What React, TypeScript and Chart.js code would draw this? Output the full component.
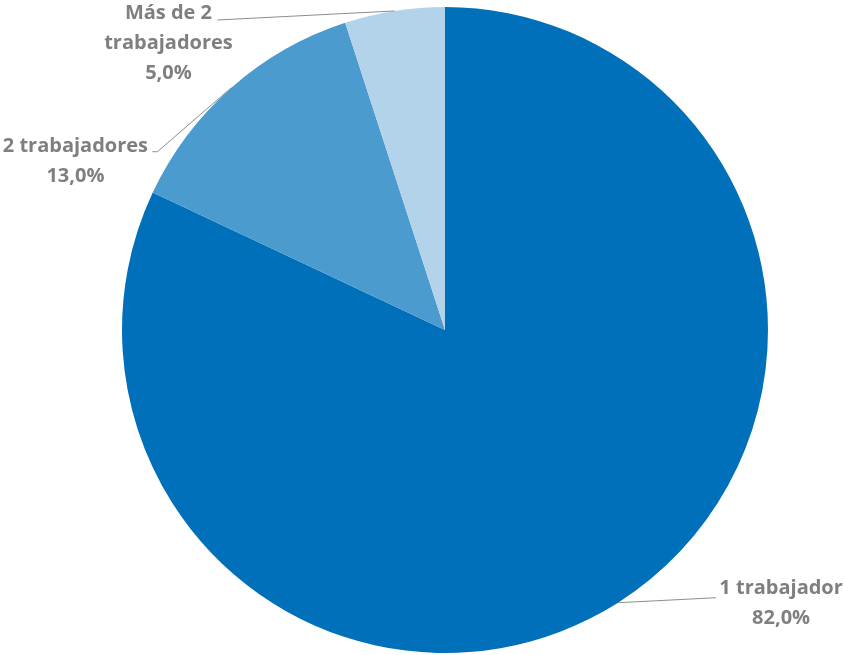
import React, { useEffect, useRef } from "react";
import { Chart, registerables } from "chart.js";

Chart.register(...registerables);

const categories: string[][] = [["1 trabajador"], ["2 trabajadores"], ["Más de 2", "trabajadores"]];
const values: number[] = [82.0, 13.0, 5.0];
const valueLabels: string[] = ["82,0%", "13,0%", "5,0%"];
const colors: string[] = ["#0070BA", "#4B9BCF", "#B3D3EA"];

// label anchor offsets relative to the slice's outer mid point
const labelLayout = [
  { end: [98, -5], elbow: null as null | number[], text: [163, -14] },
  { end: [-79, 64], elbow: [-74, 64], text: [-156, 59] },
  { end: [-177, 9], elbow: null as null | number[], text: [-226, 2] },
];

const labelPlugin = {
  id: "pieLabels",
  afterDraw(chart: any) {
    const ctx = chart.ctx as CanvasRenderingContext2D;
    const meta = chart.getDatasetMeta(0);
    meta.data.forEach((arc: any, i: number) => {
      const { x, y, startAngle, endAngle, outerRadius } = arc.getProps(
        ["x", "y", "startAngle", "endAngle", "outerRadius"],
        true
      );
      const mid = (startAngle + endAngle) / 2;
      const px = x + Math.cos(mid) * outerRadius;
      const py = y + Math.sin(mid) * outerRadius;
      const L = labelLayout[i];
      ctx.save();
      ctx.strokeStyle = "#8C8C8C";
      ctx.lineWidth = 1;
      ctx.beginPath();
      ctx.moveTo(px, py);
      if (L.elbow) {
        ctx.lineTo(px + L.elbow[0], py + L.elbow[1]);
      }
      ctx.lineTo(px + L.end[0], py + L.end[1]);
      ctx.stroke();
      ctx.fillStyle = "#7F7F7F";
      ctx.font = "bold 20px 'Open Sans', sans-serif";
      ctx.textAlign = "center";
      ctx.textBaseline = "middle";
      const lines = [...categories[i], valueLabels[i]];
      const lh = 30;
      const tx = px + L.text[0];
      const ty0 = py + L.text[1];
      lines.forEach((t, k) => {
        ctx.fillText(t, tx, ty0 + k * lh);
      });
      ctx.restore();
    });
  },
};

export default function App() {
  const ref = useRef<HTMLCanvasElement | null>(null);
  useEffect(() => {
    document.body.style.margin = "0";
    const chart = new Chart(ref.current as HTMLCanvasElement, {
      type: "pie",
      data: {
        labels: categories.map((c) => c.join(" ")),
        datasets: [
          {
            data: values,
            backgroundColor: colors,
            borderWidth: 0,
          },
        ],
      },
      options: {
        animation: false,
        responsive: false,
        layout: { padding: { left: 122, right: 76, top: 7, bottom: 2 } },
        plugins: {
          legend: { display: false },
          tooltip: { enabled: false },
        },
      },
      plugins: [labelPlugin],
    });
    return () => chart.destroy();
  }, []);
  return (
    <div style={{ width: 844, height: 655 }}>
      <canvas ref={ref} width={844} height={655} style={{ display: "block" }} />
    </div>
  );
}
